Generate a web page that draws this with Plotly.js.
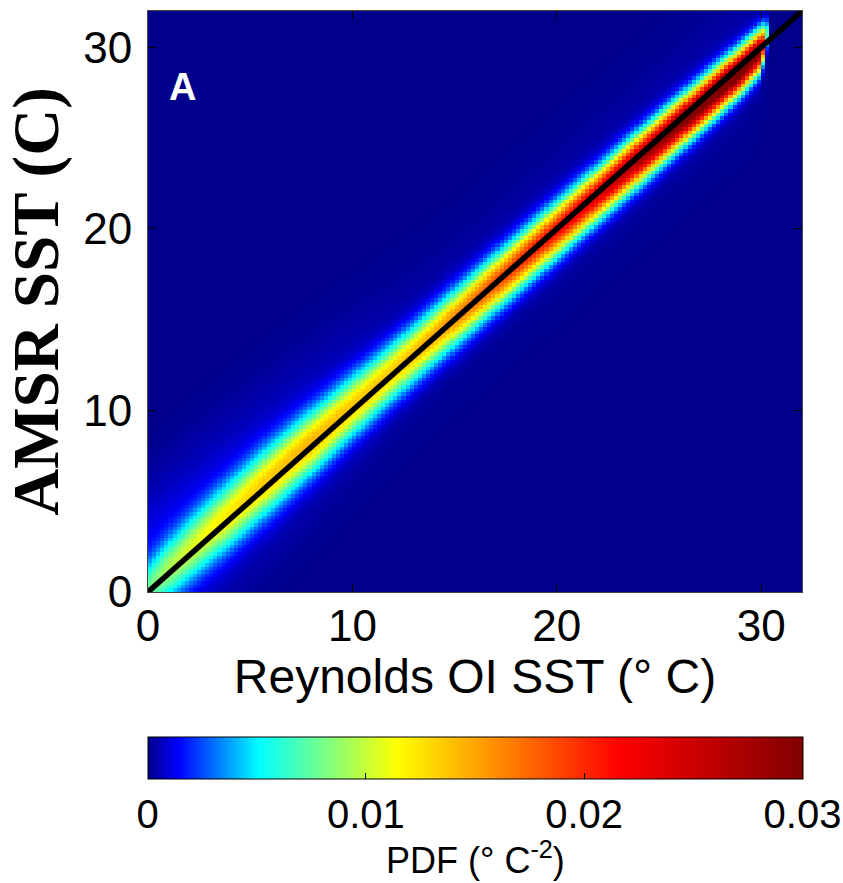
<!DOCTYPE html>
<html>
<head>
<meta charset="utf-8">
<script src="https://cdn.plot.ly/plotly-3.0.1.min.js"></script>
<style>html,body{margin:0;padding:0;background:#fff;}#chart{width:843px;height:883px;}</style>
</head>
<body>
<div id="chart"></div>
<script>
// Values: band parameters along Reynolds OI SST (°C)
const sstAnchor = [0, 1, 2, 4, 6, 8, 10, 12, 14, 16, 18, 20, 22, 24, 26, 28, 29, 30, 30.3];
// peak PDF (°C^-2) of the band at each anchor
const peakPdf   = [0.0060, 0.0078, 0.0090, 0.0110, 0.0125, 0.0135, 0.0130, 0.0130, 0.0145, 0.0170, 0.0195, 0.0215, 0.0240, 0.0275, 0.0305, 0.0325, 0.0330, 0.0300, 0.0070];
// spread (°C) of AMSR - Reynolds around the band centre
const spreadC   = [0.95, 1.05, 1.10, 1.15, 1.15, 1.10, 1.05, 1.00, 0.98, 0.95, 0.92, 0.90, 0.86, 0.84, 0.80, 0.77, 0.74, 0.70, 0.50];
// mean offset (°C) AMSR - Reynolds
const biasC     = [0.20, 0.25, 0.30, 0.30, 0.30, 0.25, 0.20, 0.15, 0.10, 0.05, 0.00, -0.05, -0.10, -0.15, -0.20, -0.25, -0.25, -0.15, 0.40];
// faint broad haze around the band
const hazePdf   = [0.0016, 0.0016, 0.0015, 0.0013, 0.0011, 0.0009, 0.0007, 0.0005, 0.0004, 0.0004, 0.0004, 0.0004, 0.0004, 0.0004, 0.0004, 0.0004, 0.0004, 0.0003, 0.0002];
const maxReynolds = 30.35;
const binWidth = 0.2;
const axisMax = 32;
const axisTicks = [0, 10, 20, 30];
const cbTicks = [0, 0.01, 0.02, 0.03];
const cbTickText = ['0', '0.01', '0.02', '0.03'];
const oneToOne = [0, 32];

function lerp(arr, x) {
  if (x <= sstAnchor[0]) return arr[0];
  for (let k = 1; k < sstAnchor.length; k++) {
    if (x <= sstAnchor[k]) {
      const t = (x - sstAnchor[k-1]) / (sstAnchor[k] - sstAnchor[k-1]);
      return arr[k-1] + t * (arr[k] - arr[k-1]);
    }
  }
  return arr[arr.length-1];
}

const centers = [];
for (let v = binWidth/2; v < axisMax; v += binWidth) centers.push(+v.toFixed(3));
const z = centers.map(y => centers.map(x => {
  if (x > maxReynolds) return 0;
  const A = lerp(peakPdf, x), s = lerp(spreadC, x), m = lerp(biasC, x), h = lerp(hazePdf, x);
  const d = y - x - m;
  return A * Math.exp(-d*d/(2*s*s)) + h * Math.exp(-(d-0.6)*(d-0.6)/(2*3.0*3.0));
}));

const jet = [
  [0, 'rgb(0,0,138)'], [0.047, 'rgb(0,0,255)'], [0.17, 'rgb(0,255,255)'],
  [0.38, 'rgb(255,255,0)'], [0.72, 'rgb(255,0,0)'], [1, 'rgb(128,0,0)']
];

const fontT = 'Liberation Sans, Arial, sans-serif';
const heat = {
  type: 'heatmap', x: centers, y: centers, z: z,
  zmin: 0, zmax: 0.03, colorscale: jet, zsmooth: false,
  colorbar: {
    orientation: 'h', thickness: 42, thicknessmode: 'pixels',
    len: 655, lenmode: 'pixels', x: 0.5, xanchor: 'center',
    y: -0.2496, yanchor: 'top', xpad: 0, ypad: 0,
    outlinecolor: 'black', outlinewidth: 1,
    tickvals: cbTicks, ticktext: cbTickText, ticks: 'inside', ticklen: 6, tickcolor: 'black',
    tickfont: {family: fontT, size: 40, color: 'black'}
  },
  hoverinfo: 'skip'
};
const line = {type: 'scatter', mode: 'lines', x: oneToOne, y: oneToOne, line: {color: 'black', width: 5.5}, hoverinfo: 'skip', showlegend: false};

const layout = {
  width: 843, height: 883,
  margin: {l: 148, r: 41, t: 11, b: 291, autoexpand: false},
  paper_bgcolor: 'white', plot_bgcolor: 'rgb(0,0,138)',
  showlegend: false,
  xaxis: {range: [0, axisMax], tickvals: axisTicks, ticks: 'inside', ticklen: 8, tickcolor: 'black',
    showline: true, linecolor: '#444', linewidth: 1, mirror: 'ticks', showgrid: false, zeroline: false,
    ticklabelstandoff: -5, automargin: false,
    tickfont: {family: fontT, size: 44, color: 'black'},
    title: {text: 'Reynolds OI SST (° C)', font: {family: fontT, size: 48, color: 'black'}, standoff: 10}},
  yaxis: {range: [0, axisMax], tickvals: axisTicks, ticks: 'inside', ticklen: 8, tickcolor: 'black',
    showline: true, linecolor: '#444', linewidth: 1, mirror: 'ticks', showgrid: false, zeroline: false,
    ticklabelstandoff: 6, automargin: false,
    tickfont: {family: fontT, size: 44, color: 'black'},
    title: {text: '<b>AMSR SST (C)</b>', font: {family: 'Liberation Serif, Times New Roman, serif', size: 65, color: 'black'}, standoff: 4}},
  annotations: [
    {text: '<b>A</b>', x: 1.7, y: 27.8, xref: 'x', yref: 'y', showarrow: false,
      font: {family: fontT, size: 38, color: 'white'}},
    {text: 'PDF (° C<sup>-2</sup>)', x: 0.5, y: -0.4578, xref: 'paper', yref: 'paper', xanchor: 'center', yanchor: 'middle',
      showarrow: false, font: {family: fontT, size: 36, color: 'black'}}
  ]
};
Plotly.newPlot('chart', [heat, line], layout, {staticPlot: true, displayModeBar: false});
</script>
</body>
</html>
